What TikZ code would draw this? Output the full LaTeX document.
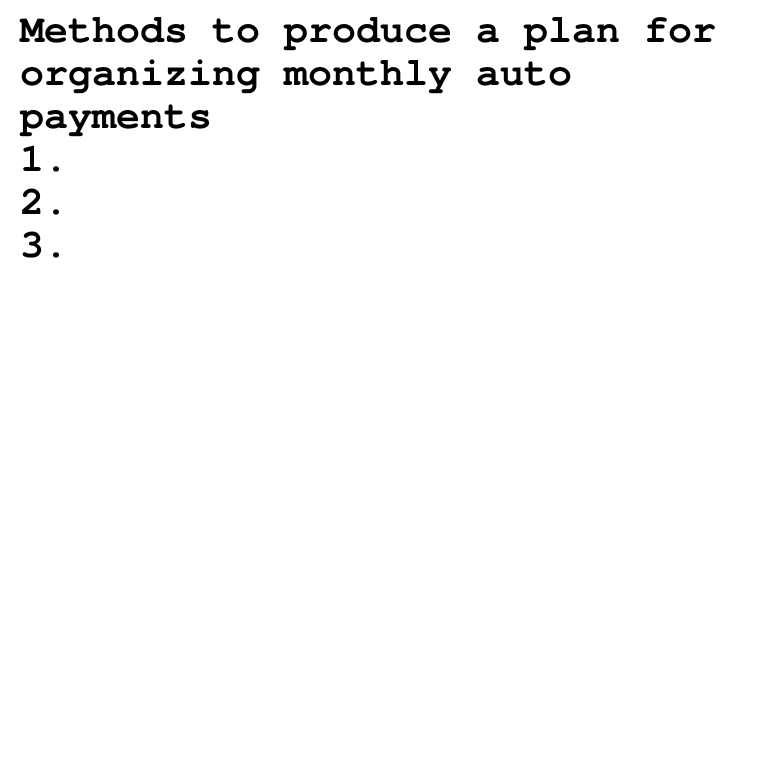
\documentclass[tikz,border=0pt]{standalone}
\usepackage{fontspec}
\setmonofont{TeX Gyre Cursor}
\begin{document}
\begin{tikzpicture}[x=1pt,y=1pt,
  txt/.style={anchor=base west,inner sep=0pt,outer sep=0pt,font=\ttfamily\bfseries\fontsize{40}{43}\selectfont}]
\useasboundingbox[fill=white] (0,0) rectangle (760,760);
\node[txt] (l1) at (20,717) {Methods to produce a plan for};
\node[txt] (l2) at (20,674) {organizing monthly auto};
\node[txt] (l3) at (20,631) {payments};
\node[txt] (l4) at (20,588) {1.};
\node[txt] (l5) at (20,545) {2.};
\node[txt] (l6) at (20,502) {3.};
\end{tikzpicture}
\end{document}
